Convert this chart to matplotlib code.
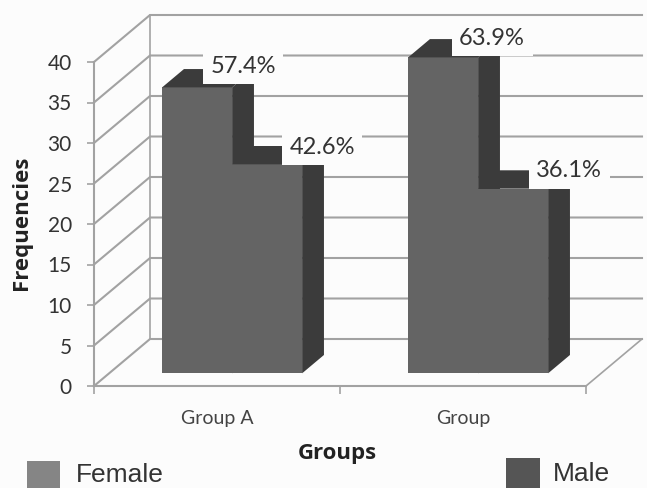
import matplotlib
matplotlib.use("Agg")
import matplotlib.pyplot as plt
from matplotlib.patches import Rectangle

groups = ["Group A", "Group"]
female = [35.3, 39.0]
male = [25.8, 22.8]
female_pct = ["57.4%", "63.9%"]
male_pct = ["42.6%", "36.1%"]
y_ticks = [0, 5, 10, 15, 20, 25, 30, 35, 40]

W, H = 647, 488
BG = "#fcfcfc"
GRID = "#a2a2a2"
FRONT = "#646464"
DARK = "#3b3b3b"

fig = plt.figure(figsize=(W / 100, H / 100), dpi=100, facecolor=BG)
ax = fig.add_axes([94 / W, (H - 386) / H, 492 / W, 324 / H], facecolor="none")
ax.set_xlim(-0.5, 1.5)
ax.set_ylim(0, 40)

# depth of the fake 3d box, in data units
DX = 56 / 246
DY = 47 / 8.1


def proj(x, v, d):
    return x + d * DX, v + d * DY


# walls and floor
for t in y_ticks:
    x0, y0 = proj(-0.5, t, 0)
    x1, y1 = proj(-0.5, t, 1)
    x2, y2 = proj(1.5, t, 1)
    ax.plot([x0, x1, x2], [y0, y1, y2], color=GRID, lw=1.5, clip_on=False, zorder=1)
x0, y0 = proj(1.5, 0, 0)
x1, y1 = proj(1.5, 0, 1)
ax.plot([x0, x1], [y0, y1], color=GRID, lw=1.2, clip_on=False, zorder=1)
x1, y1 = proj(-0.5, 40, 1)
x2, y2 = proj(-0.5, 0, 1)
ax.plot([x1, x2], [y1, y2], color=GRID, lw=1.2, clip_on=False, zorder=1)

bar_w = 70 / 246
d0, d1 = 0.27, 0.66


def bar3d(left, v, z):
    right = left + bar_w
    pts = [proj(left, 0, d0), proj(right, 0, d0), proj(right, v, d0), proj(left, v, d0)]
    ax.fill(*zip(*pts), color=FRONT, lw=0, clip_on=False, zorder=z)
    pts = [proj(right, 0, d0), proj(right, 0, d1), proj(right, v, d1), proj(right, v, d0)]
    ax.fill(*zip(*pts), color=DARK, lw=0, clip_on=False, zorder=z)
    pts = [proj(left, v, d0), proj(right, v, d0), proj(right, v, d1), proj(left, v, d1)]
    ax.fill(*zip(*pts), color=DARK, lw=0, clip_on=False, zorder=z)


offsets_f = [(46, 21), (49, 19)]
offsets_m = [(55, 17), (56, 18)]
for i in range(len(groups)):
    bar3d(i - bar_w, female[i], 3 + i)
    bar3d(i, male[i], 3.5 + i)
    # annotation_clip off, the tall bar's top is above the axes
    ax.annotate(female_pct[i], proj(i - bar_w / 2, female[i], d0), xytext=offsets_f[i],
                textcoords="offset pixels", ha="center", va="center", fontsize=17,
                family="Lato", color="#333333", zorder=8, annotation_clip=False,
                bbox=dict(boxstyle="square,pad=0.32", fc=BG, ec="none"))
    ax.annotate(male_pct[i], proj(i + bar_w / 2, male[i], d0), xytext=offsets_m[i],
                textcoords="offset pixels", ha="center", va="center", fontsize=17,
                family="Lato", color="#333333", zorder=8, annotation_clip=False,
                bbox=dict(boxstyle="square,pad=0.32", fc=BG, ec="none"))

for s in ["top", "right"]:
    ax.spines[s].set_visible(False)
for s in ["left", "bottom"]:
    ax.spines[s].set_color(GRID)
    ax.spines[s].set_linewidth(1.5)
    ax.spines[s].set_zorder(2)

ax.set_yticks(y_ticks)
ax.tick_params(axis="y", length=5, width=1.2, color=GRID, pad=11, labelsize=15, labelcolor="#333333")
ax.set_xticks([-0.5, 0.5, 1.5])
ax.set_xticklabels([])
ax.tick_params(axis="x", length=6, width=1.2, color=GRID)
ax.set_xticks([0, 1], minor=True)
ax.set_xticklabels(groups, minor=True, fontsize=14, family="Lato", color="#444444")
ax.tick_params(axis="x", which="minor", length=0, pad=17)
for lab in ax.get_yticklabels():
    lab.set_family("Lato")

fig.text(22 / W, 1 - 223 / H, "Frequencies", rotation=90, ha="center", va="center",
         fontsize=16, fontweight="bold", family="Open Sans", color="#222222")
fig.text(337 / W, 1 - 453 / H, "Groups", ha="center", va="center",
         fontsize=16, fontweight="bold", family="Open Sans", color="#222222")

# legend swatches sit far apart, so no legend box
fig.patches.append(Rectangle((27 / W, 0), 33 / W, 27 / H, transform=fig.transFigure, fc="#858585", ec="none"))
fig.patches.append(Rectangle((506 / W, 0), 34 / W, 30 / H, transform=fig.transFigure, fc="#555555", ec="none"))
fig.text(76 / W, 1 - 475 / H, "Female", ha="left", va="center", fontsize=19,
         family="Liberation Sans", color="#333333")
fig.text(553 / W, 1 - 474 / H, "Male", ha="left", va="center", fontsize=19,
         family="Liberation Sans", color="#333333")

fig.savefig("out.png", dpi=100, facecolor=BG)
